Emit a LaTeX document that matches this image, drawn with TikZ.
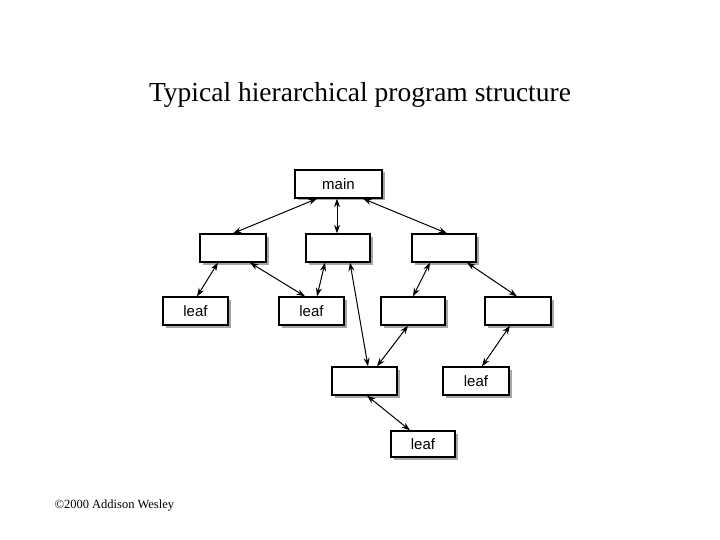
\documentclass[tikz,border=0pt]{standalone}
\usepackage{fontspec}
\setmainfont{Liberation Serif}
\newfontfamily\boxfont{Liberation Sans}
\usetikzlibrary{arrows.meta,shadows,calc}
\begin{document}
\begin{tikzpicture}[x=1pt,y=-1pt,
  bx/.style={draw=black,line width=1.3pt,fill=white,minimum width=65pt,minimum height=28pt,inner sep=0pt,
    font=\boxfont\fontsize{15}{15}\selectfont,
    drop shadow={shadow xshift=2.5pt,shadow yshift=-2.5pt,fill=black!35,opacity=1}},
  link/.style={line width=1pt,{Stealth[length=8.5pt,width=6pt]}-{Stealth[length=8.5pt,width=6pt]}}]
\path[use as bounding box] (0,0) rectangle (720,540);
\node (title) at (360,95) {\fontsize{27.5}{30}\selectfont Typical hierarchical program structure};
\node[anchor=west] (copy) at (51,506) {\fontsize{12.5}{14}\selectfont ©2000 Addison Wesley};
\node[bx,minimum width=87pt] (main) at (338.5,184) {main};
\node[bx,minimum width=66pt] (b1) at (233,248) {};
\node[bx,minimum width=64pt] (b2) at (338,248) {};
\node[bx,minimum width=64pt] (b3) at (444,248) {};
\node[bx] (l1) at (195.5,311) {leaf};
\node[bx] (l2) at (311.5,311) {leaf};
\node[bx,minimum width=64pt] (b4) at (413,311) {};
\node[bx,minimum width=66pt] (b5) at (518,311) {};
\node[bx] (b6) at (364.5,381) {};
\node[bx,minimum width=66pt] (l3) at (476,381) {leaf};
\node[bx,minimum width=64pt,minimum height=26pt] (l4) at (423,444) {leaf};
\draw[link] ([xshift=-21.5pt]main.south) -- (b1.north);
\draw[link] ([xshift=-1.5pt]main.south) -- ([xshift=-1pt]b2.north);
\draw[link] ([xshift=24.5pt]main.south) -- ([xshift=3pt]b3.north);
\draw[link] ([xshift=-15pt]b1.south) -- ([xshift=1.5pt]l1.north);
\draw[link] ([xshift=17pt]b1.south) -- ([xshift=-6.5pt]l2.north);
\draw[link] ([xshift=-13pt]b2.south) -- ([xshift=5.5pt]l2.north);
\draw[link] ([xshift=12pt]b2.south) -- ([xshift=3.5pt]b6.north);
\draw[link] ([xshift=-14pt]b3.south) -- (b4.north);
\draw[link] ([xshift=23pt]b3.south) -- ([xshift=-1pt]b5.north);
\draw[link] ([xshift=-5pt]b4.south) -- ([xshift=12.5pt]b6.north);
\draw[link] ([xshift=-8pt]b5.south) -- ([xshift=6pt]l3.north);
\draw[link] ([xshift=2.5pt]b6.south) -- ([xshift=-13pt]l4.north);
\end{tikzpicture}
\end{document}
